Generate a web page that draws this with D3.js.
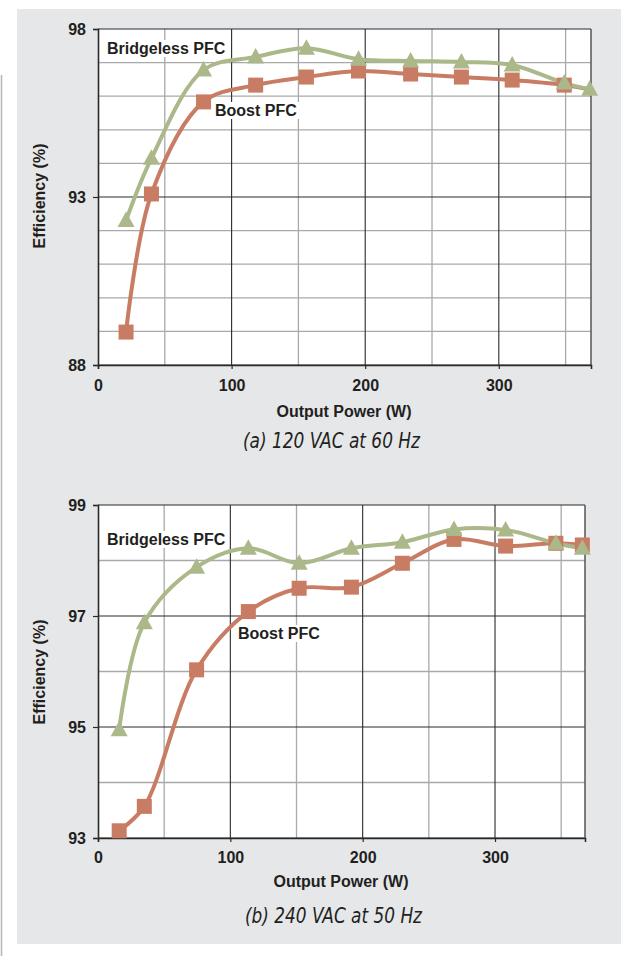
<!DOCTYPE html>
<html><head><meta charset="utf-8">
<script src="https://cdn.jsdelivr.net/npm/d3@7"></script>
<style>body{margin:0;background:#fff}svg{display:block}</style>
</head><body>
<script>
// ---- data (a) 120 VAC at 60 Hz ----
const powerA = [21, 40, 79, 118, 156, 195, 234, 272, 310, 349, 368];
const bridgelessA = [92.3, 94.15, 96.78, 97.17, 97.43, 97.1, 97.05, 97.02, 96.93, 96.39, 96.21];
const boostA = [88.98, 93.09, 95.83, 96.33, 96.57, 96.75, 96.66, 96.57, 96.48, 96.33, 96.2];
const yTicksA = [88, 93, 98];
// ---- data (b) 240 VAC at 50 Hz ----
const powerB = [16, 35, 74.5, 113.6, 152, 191.5, 230, 269, 308, 346, 366];
const bridgelessB = [94.95, 96.88, 97.88, 98.22, 97.95, 98.22, 98.33, 98.56, 98.55, 98.31, 98.22];
const boostB = [93.13, 93.57, 96.03, 97.08, 97.5, 97.52, 97.95, 98.38, 98.26, 98.31, 98.28];
const yTicksB = [93, 95, 97, 99];
const xTicks = [0, 100, 200, 300];
const seriesNames = ["Bridgeless PFC", "Boost PFC"];
const captions = ["(a) 120 VAC at 60 Hz", "(b) 240 VAC at 50 Hz"];

const W = 637, H = 956;
const GREEN = "#abb889", RED = "#c87c64", TXT = "#231f20";
const svg = d3.select("body").append("svg").attr("width", W).attr("height", H);

svg.append("rect").attr("x", 17).attr("y", 9).attr("width", 604).attr("height", 935).attr("fill", "#e6e7e9");
svg.append("line").attr("x1", 1.5).attr("x2", 1.5).attr("y1", 75).attr("y2", H).attr("stroke", "#b5b5b5").attr("stroke-width", 1.5);

const charts = [
  {x: powerA, g: bridgelessA, r: boostA, xDom: [0, 369], xR: [98, 591], yDom: [88, 98], yR: [365, 29],
   yTicks: yTicksA, yMinor: d3.range(88, 99, 1), cap: captions[0], lastRedMarker: false,
   gLab: [107, 54], rLab: [215, 116], tickBase: 391, axBase: 417, axX: 344, capBase: 448, capX: 243, capW: 177, yLabY: 196},
  {x: powerB, g: bridgelessB, r: boostB, xDom: [0, 368], xR: [98, 585], yDom: [93, 99], yR: [838, 505],
   yTicks: yTicksB, yMinor: d3.range(93, 100, 1), cap: captions[1], lastRedMarker: true,
   gLab: [107, 545], rLab: [238, 639], tickBase: 863, axBase: 887, axX: 341, capBase: 923, capX: 245, capW: 177, yLabY: 672}
];

charts.forEach(c => {
  const x = d3.scaleLinear().domain(c.xDom).range(c.xR);
  const y = d3.scaleLinear().domain(c.yDom).range(c.yR);
  const g = svg.append("g");
  const [x0, x1] = c.xR, [y1, y0] = c.yR;
  g.append("rect").attr("x", x0).attr("y", y0).attr("width", x1 - x0).attr("height", y1 - y0).attr("fill", "#fff");
  // minor grid
  const vMinor = d3.range(50, c.xDom[1], 100);
  g.selectAll(".vm").data(vMinor).join("line").attr("x1", d => x(d)).attr("x2", d => x(d)).attr("y1", y0).attr("y2", y1)
    .attr("stroke", "#a9a9a9").attr("stroke-width", 1.3);
  g.selectAll(".hm").data(c.yMinor.filter(v => !c.yTicks.includes(v))).join("line")
    .attr("x1", x0).attr("x2", x1).attr("y1", d => y(d)).attr("y2", d => y(d))
    .attr("stroke", "#a9a9a9").attr("stroke-width", 1.3);
  // major grid
  g.selectAll(".vM").data([100, 200, 300]).join("line").attr("x1", d => x(d)).attr("x2", d => x(d)).attr("y1", y0).attr("y2", y1)
    .attr("stroke", "#2a2a2a").attr("stroke-width", 1.1);
  g.selectAll(".hM").data(c.yTicks).join("line").attr("x1", x0).attr("x2", x1).attr("y1", d => y(d)).attr("y2", d => y(d))
    .attr("stroke", "#2a2a2a").attr("stroke-width", 1.1);
  // right border
  g.append("line").attr("x1", x1).attr("x2", x1).attr("y1", y0).attr("y2", y1).attr("stroke", "#555").attr("stroke-width", 1.5);
  // axes
  const ax = g.append("g").attr("transform", `translate(0,${y1})`)
    .call(d3.axisBottom(x).tickValues(xTicks).tickSize(4).tickPadding(6).tickFormat(d3.format("d")));
  const ay = g.append("g").attr("transform", `translate(${x0},0)`)
    .call(d3.axisLeft(y).tickValues(c.yTicks).tickSize(5).tickPadding(7).tickFormat(d3.format("d")));
  [ax, ay].forEach(a => {
    a.select(".domain").attr("stroke", "#2a2a2a").attr("stroke-width", 1.6);
    a.selectAll(".tick line").attr("stroke", "#2a2a2a").attr("stroke-width", 1.2);
    a.selectAll("text").attr("font-family", "Liberation Sans, Arial, sans-serif").attr("font-weight", "bold")
      .attr("font-size", 16).attr("fill", TXT);
  });
  ax.selectAll(".tick text").attr("dy", null).attr("y", c.tickBase - y1);
  ay.selectAll(".tick text").attr("dy", "0.36em");

  // labels
  const font = (s) => s.attr("font-family", "Liberation Sans, Arial, sans-serif").attr("font-weight", "bold").attr("fill", TXT);
  g.append("text").attr("x", c.axX).attr("y", c.axBase).attr("text-anchor", "middle").attr("font-size", 16)
    .text("Output Power (W)").call(font);
  g.append("text").attr("transform", `translate(45,${c.yLabY}) rotate(-90)`).attr("text-anchor", "middle").attr("font-size", 16)
    .text("Efficiency (%)").call(font);
  g.append("text").attr("x", c.capX).attr("y", c.capBase).attr("font-size", 21).attr("font-style", "italic")
    .attr("font-family", "Liberation Sans Narrow, DejaVu Sans Condensed, sans-serif").attr("fill", TXT)
    .attr("textLength", c.capW).attr("lengthAdjust", "spacingAndGlyphs").text(c.cap);

  // series labels with white backing
  [[seriesNames[0], c.gLab], [seriesNames[1], c.rLab]].forEach(([t, p]) => {
    const tx = g.append("text").attr("x", p[0]).attr("y", p[1]).attr("font-size", 16).text(t).call(font);
    const bb = tx.node().getBBox();
    g.insert("rect", () => tx.node()).attr("x", bb.x - 2).attr("y", bb.y).attr("width", bb.width + 4).attr("height", bb.height).attr("fill", "#fff");
  });

  const line = d3.line().x(d => x(d[0])).y(d => y(d[1])).curve(d3.curveCatmullRom.alpha(0.5));
  const rd = c.x.map((v, i) => [v, c.r[i]]);
  const gd = c.x.map((v, i) => [v, c.g[i]]);
  g.append("path").datum(rd).attr("d", line).attr("fill", "none").attr("stroke", RED).attr("stroke-width", 4);
  g.append("path").datum(gd).attr("d", line).attr("fill", "none").attr("stroke", GREEN).attr("stroke-width", 4);
  const rMarks = c.lastRedMarker ? rd : rd.slice(0, -1);
  g.selectAll(".sq").data(rMarks).join("rect").attr("x", d => x(d[0]) - 7.5).attr("y", d => y(d[1]) - 7.5)
    .attr("width", 15).attr("height", 15).attr("fill", RED);
  const triPath = "M0,-9L8.5,6.5L-8.5,6.5Z";
  g.selectAll(".tr").data(gd).join("path").attr("d", triPath)
    .attr("transform", d => `translate(${x(d[0])},${y(d[1])})`).attr("fill", GREEN);
});
</script>
</body></html>
